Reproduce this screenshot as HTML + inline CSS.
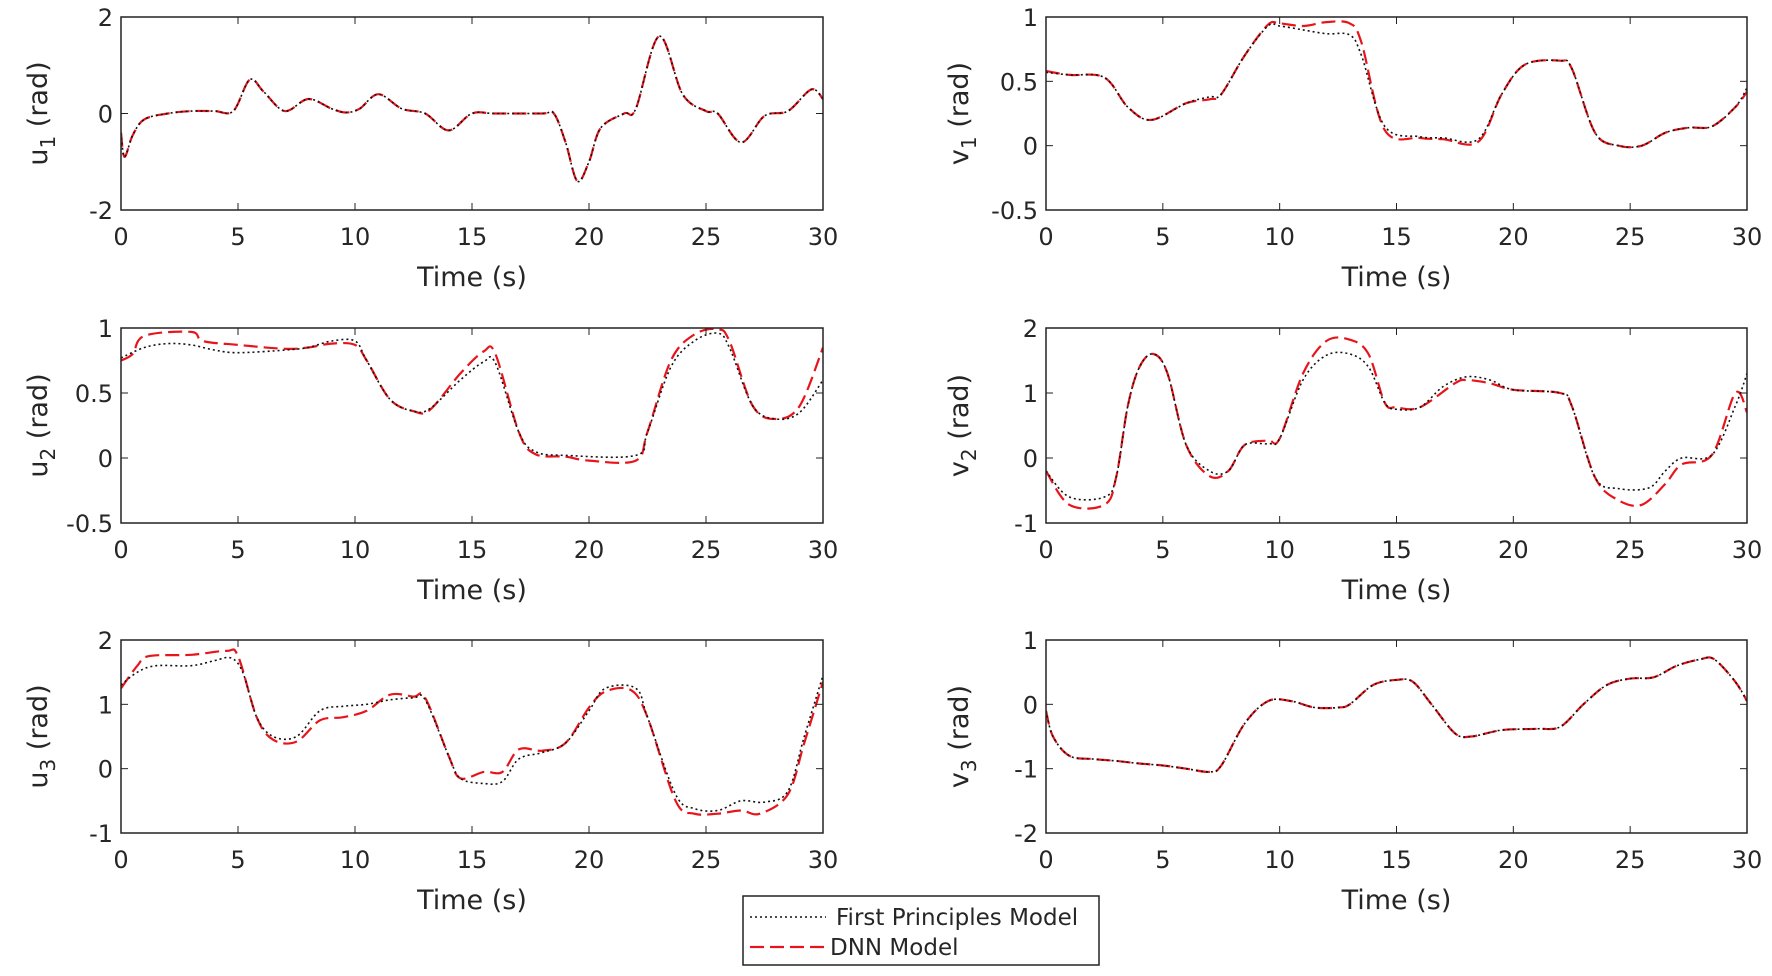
<!DOCTYPE html>
<html><head><meta charset="utf-8"><style>
html,body{margin:0;padding:0;background:#fff;}
svg text{font-family:"DejaVu Sans","Liberation Sans",sans-serif;fill:#262626;}
</style></head><body>
<svg id="s" width="1772" height="971" viewBox="0 0 1772 971" xmlns="http://www.w3.org/2000/svg"></svg>
<script>
const S=document.getElementById('s');let h='';
function cr(pts){let d='M'+pts[0][0].toFixed(1)+','+pts[0][1].toFixed(1);
for(let i=0;i<pts.length-1;i++){const p0=pts[Math.max(0,i-1)],p1=pts[i],p2=pts[i+1],p3=pts[Math.min(pts.length-1,i+2)];
const c1=[p1[0]+(p2[0]-p0[0])/6,p1[1]+(p2[1]-p0[1])/6],c2=[p2[0]-(p3[0]-p1[0])/6,p2[1]-(p3[1]-p1[1])/6];
d+=' C'+c1[0].toFixed(1)+','+c1[1].toFixed(1)+' '+c2[0].toFixed(1)+','+c2[1].toFixed(1)+' '+p2[0].toFixed(1)+','+p2[1].toFixed(1);}return d;}
function plot(x0,x1,y0,y1,ymin,ymax,yt,ylab,sub,fp,dnn){
const X=t=>x0+(x1-x0)*t/30,Y=v=>y1-(y1-y0)*(v-ymin)/(ymax-ymin);
h+=`<clipPath id="c${x0}${y0}"><rect x="${x0}" y="${y0}" width="${x1-x0}" height="${y1-y0}"/></clipPath>`;
h+=`<g clip-path="url(#c${x0}${y0})">`;
h+=`<path d="${cr(dnn.map(p=>[X(p[0]),Y(p[1])]))}" fill="none" stroke="#e8141b" stroke-width="2.2" stroke-dasharray="14 6"/>`;
h+=`<path d="${cr(fp.map(p=>[X(p[0]),Y(p[1])]))}" fill="none" stroke="#111" stroke-width="1.6" stroke-dasharray="2 3"/>`;
h+='</g>';
h+=`<rect x="${x0}" y="${y0}" width="${x1-x0}" height="${y1-y0}" fill="none" stroke="#222" stroke-width="1.5"/>`;
for(let t=0;t<=30;t+=5){const x=X(t);h+=`<line x1="${x}" y1="${y1}" x2="${x}" y2="${y1-7}" stroke="#222"/><line x1="${x}" y1="${y0}" x2="${x}" y2="${y0+7}" stroke="#222"/>`;
h+=`<text x="${x}" y="${y1+35}" font-size="24" text-anchor="middle">${t}</text>`;}
yt.forEach(v=>{const y=Y(v);h+=`<line x1="${x0}" y1="${y}" x2="${x0+7}" y2="${y}" stroke="#222"/><line x1="${x1}" y1="${y}" x2="${x1-7}" y2="${y}" stroke="#222"/>`;
h+=`<text x="${x0-8}" y="${y+9}" font-size="24" text-anchor="end">${v}</text>`;});
h+=`<text x="${(x0+x1)/2}" y="${y1+76}" font-size="27" text-anchor="middle">Time (s)</text>`;
const lx=x0-(x0<500?74:78),ly=(y0+y1)/2;
h+=`<text transform="translate(${lx},${ly}) rotate(-90)" font-size="27" text-anchor="middle">${ylab}<tspan font-size="20" dy="8">${sub}</tspan><tspan dy="-8"> (rad)</tspan></text>`;}
const L=[121,823],R=[1046,1747],r1=[17,210],r2=[328,523],r3=[640,833];
const u1=[[0,-0.4],[0.15,-0.9],[0.5,-0.45],[1,-0.12],[2,0],[3,0.05],[4,0.05],[4.8,0.05],[5.5,0.7],[6.1,0.45],[7,0.05],[8,0.3],[9,0.1],[9.6,0.02],[10.2,0.1],[11,0.4],[12,0.1],[13,0],[14,-0.35],[15,0],[16,0],[18,0],[18.5,0],[19,-0.6],[19.5,-1.4],[20,-1],[20.5,-0.3],[21.5,0],[22,0.1],[23,1.6],[24,0.4],[25,0.05],[25.5,0],[26.5,-0.6],[27.5,-0.05],[28.5,0.05],[29.5,0.5],[30,0.3]];
plot(L[0],L[1],r1[0],r1[1],-2,2,[-2,0,2],'u','1',u1,u1);
plot(R[0],R[1],r1[0],r1[1],-0.5,1,[-0.5,0,0.5,1],'v','1',
[[0,0.57],[1,0.55],[2.5,0.53],[3.5,0.3],[4.5,0.2],[6,0.33],[7,0.38],[7.5,0.4],[8.5,0.7],[9.5,0.93],[10,0.93],[11,0.9],[12,0.87],[13,0.86],[13.5,0.7],[14.5,0.15],[16,0.07],[17,0.06],[18.5,0.05],[19.5,0.4],[20.5,0.63],[22,0.66],[22.5,0.6],[23.5,0.1],[24.5,0],[25.5,0],[26.5,0.1],[27.5,0.14],[28.5,0.15],[29.5,0.3],[30,0.45]],
[[0,0.58],[1,0.55],[2.5,0.53],[3.5,0.3],[4.5,0.2],[6,0.33],[7,0.36],[7.5,0.4],[8.5,0.7],[9.5,0.94],[10,0.95],[11,0.93],[12,0.96],[13,0.95],[13.5,0.8],[14.5,0.12],[16,0.06],[17,0.05],[18.5,0.03],[19.5,0.4],[20.5,0.63],[22,0.66],[22.5,0.6],[23.5,0.1],[24.5,0],[25.5,0],[26.5,0.1],[27.5,0.14],[28.5,0.15],[29.5,0.3],[30,0.42]]);
plot(L[0],L[1],r2[0],r2[1],-0.5,1,[-0.5,0,0.5,1],'u','2',
[[0,0.77],[1,0.85],[2,0.88],[3,0.87],[4,0.83],[5,0.81],[7,0.83],[8,0.85],[9,0.9],[10,0.9],[10.5,0.75],[11.5,0.45],[12.5,0.36],[13.2,0.38],[14.5,0.6],[15.5,0.74],[16,0.73],[17,0.2],[17.7,0.05],[19,0.02],[22,0.02],[22.5,0.2],[23.5,0.7],[24.5,0.9],[25.5,0.96],[26,0.85],[27,0.4],[28,0.3],[29,0.35],[30,0.6]],
[[0,0.75],[0.5,0.8],[1,0.94],[3,0.97],[3.5,0.9],[5,0.87],[7,0.84],[8,0.85],[9,0.88],[10,0.87],[10.5,0.75],[11.5,0.45],[12.5,0.36],[13.2,0.37],[14.5,0.65],[15.5,0.82],[16,0.8],[17,0.2],[17.7,0.03],[19,0.01],[20,-0.02],[22,-0.02],[22.5,0.2],[23.5,0.75],[24.5,0.95],[25.5,0.99],[26,0.9],[27,0.4],[28,0.3],[29,0.4],[30,0.85]]);
plot(R[0],R[1],r2[0],r2[1],-1,2,[-1,0,1,2],'v','2',
[[0,-0.2],[1,-0.6],[2.5,-0.6],[3,-0.3],[3.5,0.8],[4,1.4],[4.6,1.6],[5.2,1.3],[6,0.2],[7,-0.2],[7.8,-0.2],[8.5,0.2],[9.5,0.22],[10,0.3],[11,1.2],[12,1.58],[13,1.6],[13.8,1.4],[14.5,0.85],[15,0.75],[16,0.78],[17,1.1],[18,1.25],[19,1.2],[20,1.05],[22,1.0],[22.5,0.8],[23.5,-0.3],[24.5,-0.47],[25.8,-0.46],[26.5,-0.2],[27.2,0],[28.5,0.05],[29.5,0.8],[30,1.3]],
[[0,-0.2],[1,-0.72],[2.5,-0.72],[3,-0.3],[3.5,0.8],[4,1.4],[4.6,1.6],[5.2,1.3],[6,0.2],[7,-0.28],[7.8,-0.2],[8.5,0.2],[9.5,0.27],[10,0.3],[11,1.3],[12,1.8],[13,1.82],[13.8,1.6],[14.5,0.85],[15,0.78],[16,0.78],[17.5,1.15],[18,1.2],[19,1.15],[20,1.05],[22,1.0],[22.5,0.8],[23.5,-0.3],[24.5,-0.65],[25.5,-0.72],[26.5,-0.4],[27.2,-0.1],[28.5,0.05],[29.5,1],[30,0.7]]);
plot(L[0],L[1],r3[0],r3[1],-1,2,[-1,0,1,2],'u','3',
[[0,1.3],[0.7,1.5],[1.5,1.6],[3,1.6],[4,1.68],[4.7,1.72],[5.2,1.5],[5.8,0.8],[6.5,0.5],[7.5,0.5],[8.5,0.9],[9.5,0.97],[10.5,1.0],[11.5,1.07],[12.5,1.1],[13,1.07],[14,0.2],[14.5,-0.15],[15.5,-0.23],[16.3,-0.2],[17,0.15],[18,0.25],[19,0.4],[20,0.9],[20.7,1.25],[22,1.25],[22.5,0.8],[23.7,-0.4],[24.5,-0.62],[25.5,-0.65],[26.5,-0.5],[27.5,-0.52],[28.5,-0.35],[29.2,0.5],[30,1.45]],
[[0,1.25],[0.7,1.6],[1.2,1.75],[3,1.77],[4.5,1.83],[5,1.75],[5.8,0.8],[6.5,0.45],[7.5,0.42],[8.5,0.75],[9.5,0.8],[10.5,0.9],[11.5,1.15],[12.5,1.12],[13,1.1],[14,0.2],[14.5,-0.15],[15.5,-0.05],[16.3,-0.05],[17,0.3],[18,0.28],[19,0.4],[20,0.95],[20.7,1.2],[21.8,1.22],[22.5,0.8],[23.7,-0.5],[24.5,-0.7],[25.5,-0.7],[26.5,-0.65],[27.3,-0.7],[28.5,-0.4],[29.2,0.4],[30,1.35]]);
const v3=[[0,-0.1],[0.3,-0.5],[1,-0.8],[2,-0.85],[3,-0.88],[4,-0.92],[5,-0.95],[6,-1.0],[7,-1.05],[7.5,-0.95],[8.5,-0.3],[9.5,0.05],[10.5,0.05],[11.5,-0.05],[12.5,-0.05],[13,0],[14,0.3],[15,0.38],[15.7,0.35],[16.5,0],[17.5,-0.45],[18.2,-0.5],[19.5,-0.4],[21,-0.38],[22,-0.35],[23,0],[24,0.3],[25,0.4],[26,0.42],[27,0.6],[28,0.7],[28.6,0.7],[29.5,0.35],[30,0.05]];
plot(R[0],R[1],r3[0],r3[1],-2,1,[-2,-1,0,1],'v','3',v3,v3);
h+=`<rect x="743" y="896" width="356" height="69" fill="#fff" stroke="#222" stroke-width="1.5"/>`;
h+=`<line x1="750" y1="917" x2="826" y2="917" stroke="#111" stroke-width="1.6" stroke-dasharray="2 3"/>`;
h+=`<line x1="750" y1="947" x2="828" y2="947" stroke="#e8141b" stroke-width="2.2" stroke-dasharray="14 6"/>`;
h+=`<text x="836" y="925" font-size="23">First Principles Model</text>`;
h+=`<text x="830" y="955" font-size="23">DNN Model</text>`;
S.innerHTML=h;
</script>
</body></html>
